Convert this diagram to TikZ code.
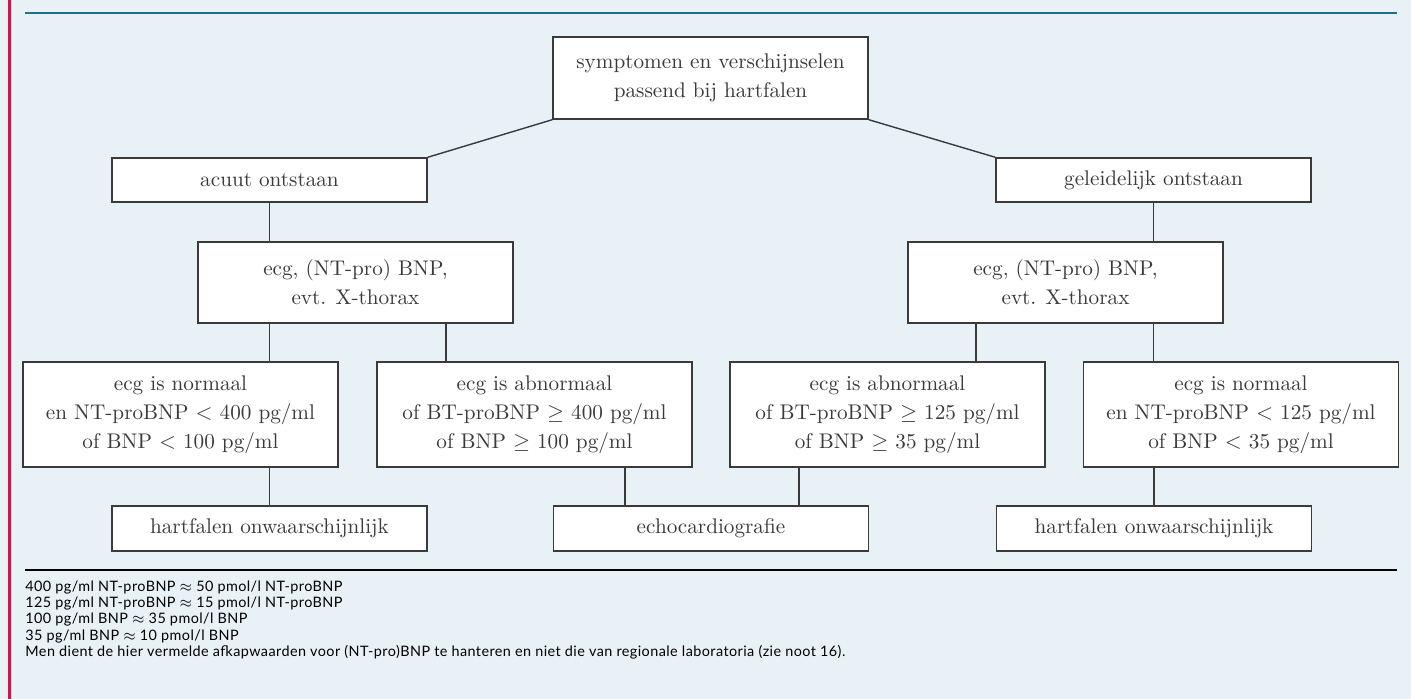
\documentclass[tikz,border=0pt]{standalone}
\usepackage{fontspec}
\newfontfamily\notefont[LetterSpace=3]{Lato}
\usetikzlibrary{positioning}
\definecolor{achtergrond}{HTML}{E8F1F5}
\definecolor{kaderrood}{HTML}{C8174A}
\definecolor{kopblauw}{HTML}{1F6E8C}
\definecolor{tekstgrijs}{HTML}{3A3A3A}
\tikzset{
  blok/.style={draw=tekstgrijs, line width=0.7pt, fill=white, text=tekstgrijs,
    align=center, font=\fontsize{10.6}{14.5}\selectfont, minimum width=157.5pt, inner sep=0pt},
  lijn/.style={draw=tekstgrijs, line width=0.7pt},
}
\begin{document}
\begin{tikzpicture}[x=0.5pt, y=-0.5pt]
  \useasboundingbox (0,0) rectangle (1411,699);
  \fill[achtergrond] (0,0) rectangle (1411,699);
  \draw[kaderrood, line width=1.5pt] (9,0) -- (9,699);
  \draw[kopblauw, line width=1pt] (25,13) -- (1397,13);
  \draw[line width=0.7pt] (25,570) -- (1397,570);
  % boxes
  \node[blok, minimum height=41pt] (klacht) at (710.5,78) {symptomen en verschijnselen\\passend bij hartfalen};
  \node[blok, minimum height=22pt] (acuut) at (269.5,180) {acuut ontstaan};
  \node[blok, minimum height=22pt] (gelei) at (1153.5,180) {geleidelijk ontstaan};
  \node[blok, minimum height=40.5pt] (onderzL) at (355.5,282.5) {ecg, (NT-pro) BNP,\\evt. X-thorax};
  \node[blok, minimum height=40.5pt] (onderzR) at (1065.5,282.5) {ecg, (NT-pro) BNP,\\evt. X-thorax};
  \node[blok, minimum height=52.5pt] (normaalL) at (180.5,414.5) {ecg is normaal\\en NT-proBNP $<$ 400 pg/ml\\of BNP $<$ 100 pg/ml};
  \node[blok, minimum height=52.5pt] (abnormL) at (534.5,414.5) {ecg is abnormaal\\of BT-proBNP $\geq$ 400 pg/ml\\of BNP $\geq$ 100 pg/ml};
  \node[blok, minimum height=52.5pt] (abnormR) at (887.5,414.5) {ecg is abnormaal\\of BT-proBNP $\geq$ 125 pg/ml\\of BNP $\geq$ 35 pg/ml};
  \node[blok, minimum height=52.5pt] (normaalR) at (1241,414.5) {ecg is normaal\\en NT-proBNP $<$ 125 pg/ml\\of BNP $<$ 35 pg/ml};
  \node[blok, minimum height=22.5pt] (onwaarL) at (269.5,528.5) {hartfalen onwaarschijnlijk};
  \node[blok, minimum height=22.5pt] (echo) at (711,528.5) {echocardiografie};
  \node[blok, minimum height=22.5pt] (onwaarR) at (1154,528.5) {hartfalen onwaarschijnlijk};
  % connectors
  \draw[lijn] (klacht.south west) -- (acuut.north east);
  \draw[lijn] (klacht.south east) -- (gelei.north west);
  \draw[lijn] (acuut.south) -- (acuut.south |- onderzL.north);
  \draw[lijn] (gelei.south) -- (gelei.south |- onderzR.north);
  \draw[lijn] (acuut.south |- onderzL.south) -- (acuut.south |- normaalL.north);
  \draw[lijn] ([xshift=45.25pt]onderzL.south) -- ([xshift=45.25pt]onderzL.south |- abnormL.north);
  \draw[lijn] ([xshift=-44.75pt]onderzR.south) -- ([xshift=-44.75pt]onderzR.south |- abnormR.north);
  \draw[lijn] (gelei.south |- onderzR.south) -- (gelei.south |- normaalR.north);
  \draw[lijn] (onwaarL.north |- normaalL.south) -- (onwaarL.north);
  \draw[lijn] ([xshift=45.25pt]abnormL.south) -- ([xshift=45.25pt]abnormL.south |- echo.north);
  \draw[lijn] ([xshift=-44.25pt]abnormR.south) -- ([xshift=-44.25pt]abnormR.south |- echo.north);
  \draw[lijn] (onwaarR.north |- normaalR.south) -- (onwaarR.north);
  % footnotes
  \node[anchor=north west, align=left, inner sep=0pt, text=black,
    font=\notefont\fontsize{7.2}{8.2}\selectfont] (noot) at (25,580)
    {400 pg/ml NT-proBNP $\approx$ 50 pmol/l NT-proBNP\\
     125 pg/ml NT-proBNP $\approx$ 15 pmol/l NT-proBNP\\
     100 pg/ml BNP $\approx$ 35 pmol/l BNP\\
     35 pg/ml BNP $\approx$ 10 pmol/l BNP\\
     Men dient de hier vermelde afkapwaarden voor (NT-pro)BNP te hanteren en niet die van regionale laboratoria (zie noot 16).};
\end{tikzpicture}
\end{document}
